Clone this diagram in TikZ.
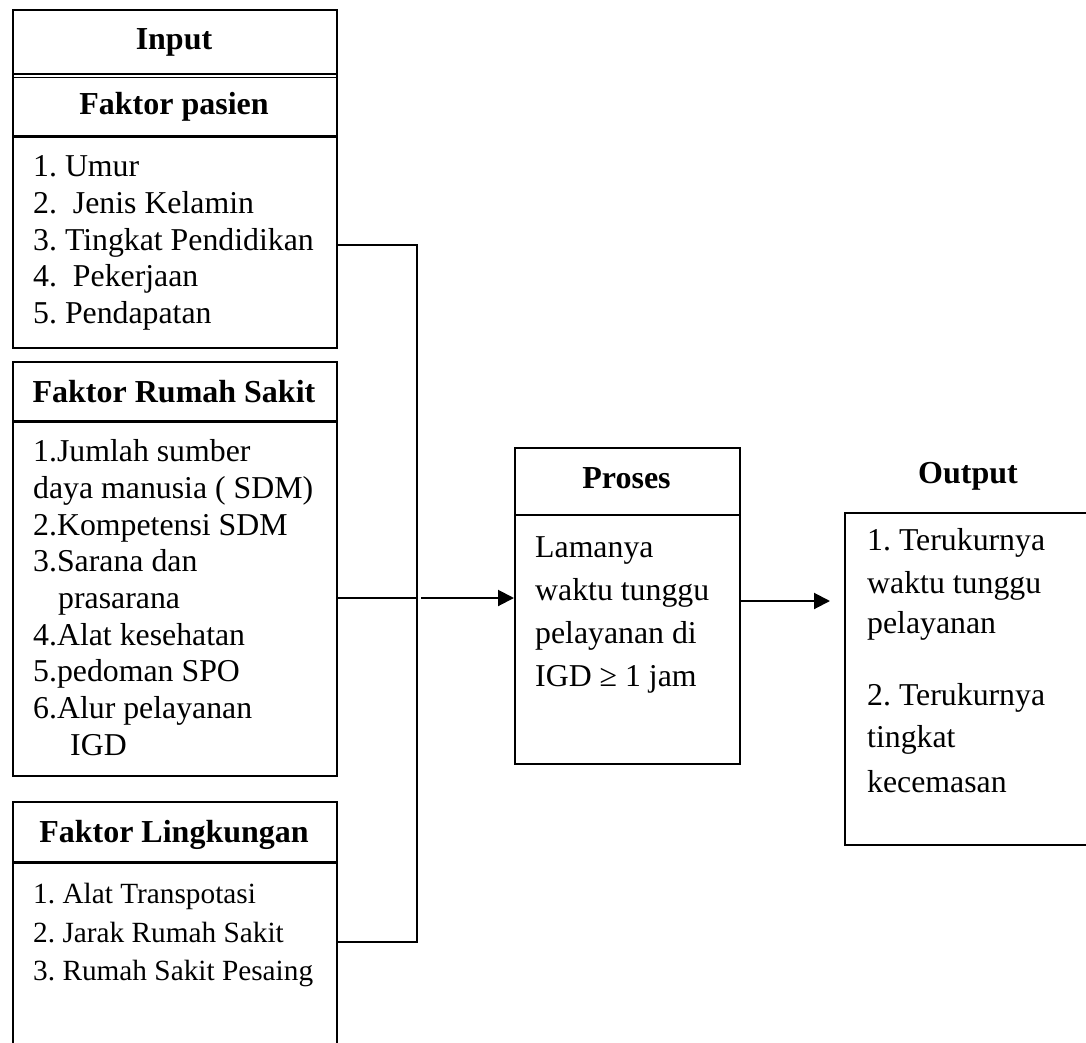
\documentclass[tikz,border=0pt]{standalone}
\usepackage{fontspec}
\setmainfont{Liberation Serif}
\frenchspacing
\usetikzlibrary{arrows.meta}
\tikzset{
  box/.style={draw, line width=2pt, inner sep=0pt, anchor=north west},
  hrule/.style={line width=3pt},
  link/.style={line width=2pt},
  flow/.style={link, -{Triangle[length=16pt,width=16pt]}},
  head/.style={font=\fontsize{32}{38}\selectfont\bfseries, inner sep=0pt, anchor=base},
  entry/.style={font=\fontsize{31.8}{38}\selectfont, inner sep=0pt, anchor=base west},
  small entry/.style={entry, font=\fontsize{29.3}{35}\selectfont}
}

\begin{document}
\begin{tikzpicture}[x=1pt,y=-1pt]
  \useasboundingbox (0,0) rectangle (1086,1043);

  % Input column
  \node[box, minimum width=324pt, minimum height=337.4pt] (pasien) at (12,9.3) {};
  \node[box, minimum width=324pt, minimum height=414pt] (rumah) at (12,361) {};
  \node[box, minimum width=324pt, minimum height=260pt] (lingkungan) at (12,801) {};

  \draw[line width=1.3pt] (pasien.west |- 0,74) -- (pasien.east |- 0,74)
    (pasien.west |- 0,77.3) -- (pasien.east |- 0,77.3);
  \draw[hrule] (pasien.west |- 0,136.7) -- (pasien.east |- 0,136.7);
  \draw[hrule] (rumah.west |- 0,421) -- (rumah.east |- 0,421);
  \draw[hrule] (lingkungan.west |- 0,862.7) -- (lingkungan.east |- 0,862.7);

  \node[head] (inputlbl) at (174,50) {Input};
  \node[head] (pasienlbl) at (174,115) {Faktor pasien};
  \node[head] (rumahlbl) at (174,402) {Faktor Rumah Sakit};
  \node[head] (lingklbl) at (174,842) {Faktor Lingkungan};

  \foreach \t [count=\i] in {1. Umur, 2.~~Jenis Kelamin, 3. Tingkat Pendidikan, 4.~~Pekerjaan, 5. Pendapatan}
    \node[entry] (pasien-\i) at (33,140.3+36.67*\i) {\t};
  \foreach \x/\t [count=\i] in {33/1.Jumlah sumber, 33/daya manusia ( SDM), 33/2.Kompetensi SDM,
      33/3.Sarana dan, 58/prasarana, 33/4.Alat kesehatan, 33/5.pedoman SPO, 33/6.Alur pelayanan, 70/IGD}
    \node[entry] (rumah-\i) at (\x,425+36.67*\i) {\t};
  \foreach \t [count=\i] in {1. Alat Transpotasi, 2. Jarak Rumah Sakit, 3. Rumah Sakit Pesaing}
    \node[small entry] (lingk-\i) at (33,865+38.5*\i) {\t};

  % Proses and Output
  \node[box, minimum width=225pt, minimum height=316pt] (proses) at (514,447) {};
  \draw[link] (proses.west |- 0,515) -- (proses.east |- 0,515);
  \node[head] (proseslbl) at (626.5,488) {Proses};
  \foreach \t [count=\i] in {Lamanya, waktu tunggu, pelayanan di, IGD ≥ 1 jam}
    \node[entry] (proses-\i) at (535,514+43*\i) {\t};

  \node[head] (outputlbl) at (968,483) {Output};
  \node[box, minimum width=260pt, minimum height=332pt] (output) at (844,512) {};
  \foreach \y/\t [count=\i] in {550/1. Terukurnya, 593/waktu tunggu, 633/pelayanan,
      705/2. Terukurnya, 747/tingkat, 792/kecemasan}
    \node[entry] (output-\i) at (867,\y) {\t};

  % connectors
  \coordinate (top) at (417,245);
  \coordinate (mid) at (417,598);
  \coordinate (midgap) at (421,598);
  \coordinate (bot) at (417,942);
  \coordinate (outtail) at (0,601);
  \coordinate (outtip) at (830,601);
  \draw[link] (top -| pasien.east) -- (top) -- (bot) -- (bot -| lingkungan.east);
  \draw[link] (mid -| rumah.east) -- (mid);
  \draw[flow] (midgap) -- (mid -| proses.west);
  \draw[flow] (outtail -| proses.east) -- (outtip);
\end{tikzpicture}
\end{document}
